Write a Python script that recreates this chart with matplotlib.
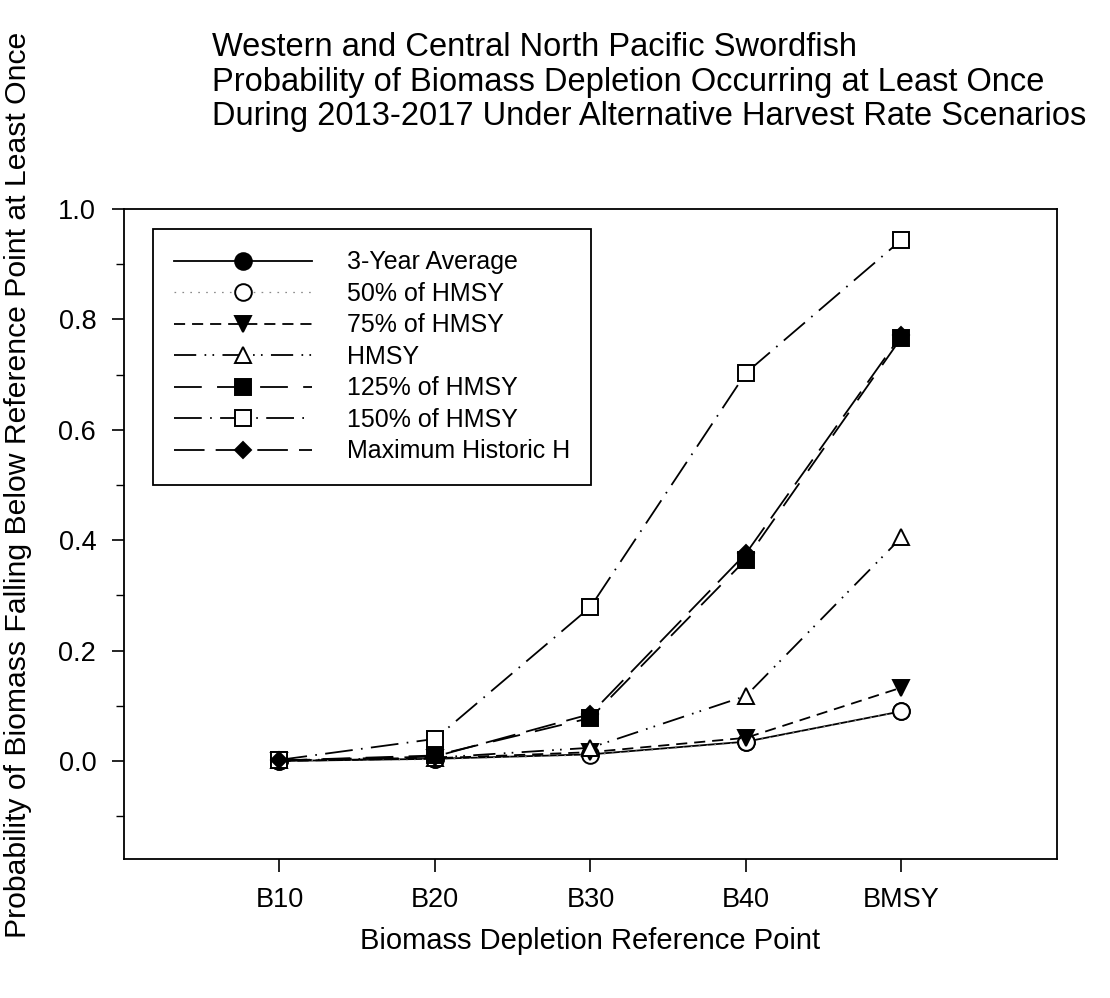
import matplotlib

matplotlib.use("Agg")
import matplotlib.pyplot as plt

plt.rcParams["font.family"] = ["Liberation Sans", "DejaVu Sans"]
plt.rcParams["lines.scale_dashes"] = False

# --- data -------------------------------------------------------------------
ref_points = ["B10", "B20", "B30", "B40", "BMSY"]
three_year_avg = [0.000, 0.004, 0.012, 0.035, 0.090]
hmsy_50 = [0.000, 0.003, 0.011, 0.034, 0.090]
hmsy_75 = [0.000, 0.005, 0.016, 0.042, 0.133]
hmsy_100 = [0.001, 0.006, 0.024, 0.118, 0.405]
hmsy_125 = [0.001, 0.010, 0.078, 0.365, 0.767]
hmsy_150 = [0.002, 0.040, 0.279, 0.703, 0.944]
max_hist_h = [0.001, 0.008, 0.085, 0.376, 0.772]

labels = ["3-Year Average", "50% of HMSY", "75% of HMSY", "HMSY",
          "125% of HMSY", "150% of HMSY", "Maximum Historic H"]

# (values, marker, face, linestyle, linewidth, line colour, marker size)
styles = [
    (three_year_avg, "o", "black", "-", 1.3, "black", 12),
    (hmsy_50, "o", "white", (0, (1.2, 4.5)), 0.9, "#8a8a8a", 12),
    (hmsy_75, "v", "black", (0, (8, 5)), 1.3, "black", 12),
    (hmsy_100, "^", "white", (0, (16, 6, 1.2, 4.5, 1.2, 6)), 1.3, "black", 12),
    (hmsy_125, "s", "black", (0, (20, 11)), 1.3, "black", 11),
    (hmsy_150, "s", "white", (0, (20, 6, 1.2, 6)), 1.3, "black", 11),
    (max_hist_h, "D", "black", (0, (22, 8)), 1.3, "black", 8.5),
]

fig = plt.figure(figsize=(11.1, 9.98), dpi=100)
ax = fig.add_axes([0.1117, 0.1393, 0.8405, 0.6513])

x = list(range(1, len(ref_points) + 1))
handles = []
for (vals, mk, face, ls, lw, lc, ms), lab in zip(styles, labels):
    h, = ax.plot(x, vals, linestyle=ls, color=lc, lw=lw, marker=mk, ms=ms,
                 mfc=face, mec="black", mew=1.4, label=lab)
    handles.append(h)

ax.set_xlim(0, 6)
ax.set_ylim(-0.1775, 1.0)
ax.set_xticks(x)
ax.set_xticklabels(ref_points)
ax.set_yticks([0.0, 0.2, 0.4, 0.6, 0.8, 1.0])
ax.set_yticks([-0.1, 0.1, 0.3, 0.5, 0.7, 0.9], minor=True)
ax.tick_params(which="major", direction="out", length=9, width=1.2,
               labelsize=19.5, pad=11)
ax.tick_params(which="minor", direction="out", length=6, width=1.0)
ax.tick_params(axis="x", which="minor", bottom=False)
for sp in ax.spines.values():
    sp.set_linewidth(1.3)

ax.set_xlabel("Biomass Depletion Reference Point", fontsize=21, labelpad=10)

fig.text(18 / 1110, 1 - 485 / 998,
         "Probability of Biomass Falling Below Reference Point at Least Once",
         rotation=90, ha="center", va="center", fontsize=21.7)

fig.text(212 / 1110, 1 - 32 / 998,
         "Western and Central North Pacific Swordfish\n"
         "Probability of Biomass Depletion Occurring at Least Once\n"
         "During 2013-2017 Under Alternative Harvest Rate Scenarios",
         ha="left", va="top", fontsize=23.5, linespacing=1.15)

leg = ax.legend(handles=handles, loc="upper left", bbox_to_anchor=(0.031, 0.969),
                borderaxespad=0, fontsize=18, handlelength=5.5, handletextpad=1.4,
                labelspacing=0.3, borderpad=0.85, fancybox=False, framealpha=1,
                edgecolor="black")
leg.get_frame().set_linewidth(1.3)

fig.savefig("out.png", dpi=100)
